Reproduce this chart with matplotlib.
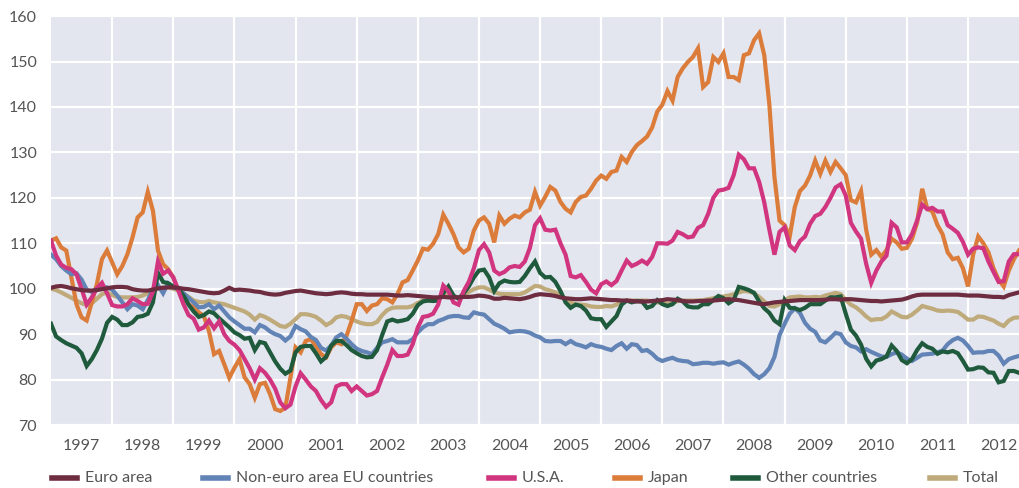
import numpy as np
import matplotlib
matplotlib.use('Agg')
import matplotlib.pyplot as plt
from matplotlib.lines import Line2D

# monthly index values, Jan 1997 .. Nov 2012 (one row per year)
euro_area = [
    100.2, 100.5, 100.6, 100.4, 100.1, 99.9, 99.7, 99.6, 99.6, 99.7, 99.9, 100.1,
    100.3, 100.4, 100.4, 100.3, 99.9, 99.7, 99.6, 99.6, 99.8, 100.1, 100.2, 100.3,
    100.3, 100.2, 100.0, 99.9, 99.7, 99.5, 99.3, 99.1, 99.0, 99.1, 99.6, 100.2,
    99.7, 99.8, 99.7, 99.6, 99.4, 99.3, 99.0, 98.8, 98.7, 98.8, 99.1, 99.3,
    99.5, 99.6, 99.4, 99.2, 99.0, 98.9, 98.8, 98.9, 99.1, 99.2, 99.1, 98.9,
    98.8, 98.8, 98.7, 98.7, 98.7, 98.7, 98.7, 98.6, 98.5, 98.5, 98.6, 98.5,
    98.4, 98.3, 98.2, 98.1, 98.1, 98.2, 98.1, 98.1, 98.1, 98.2, 98.2, 98.3,
    98.5, 98.4, 98.2, 97.8, 97.8, 98.0, 97.9, 97.8, 97.7, 97.9, 98.2, 98.6,
    98.8, 98.7, 98.6, 98.4, 98.1, 97.9, 97.8, 97.7, 97.7, 97.8, 97.9, 97.8,
    97.7, 97.6, 97.5, 97.5, 97.4, 97.4, 97.3, 97.2, 97.2, 97.2, 97.3, 97.4,
    97.5, 97.7, 97.6, 97.5, 97.3, 97.2, 97.2, 97.3, 97.3, 97.4, 97.4, 97.5,
    97.6, 97.7, 97.6, 97.5, 97.3, 97.1, 96.9, 96.7, 96.6, 96.8, 97.0, 97.1,
    97.2, 97.3, 97.4, 97.5, 97.5, 97.5, 97.5, 97.5, 97.6, 97.7, 97.7, 97.6,
    97.7, 97.7, 97.6, 97.5, 97.4, 97.3, 97.3, 97.2, 97.3, 97.4, 97.5, 97.6,
    97.9, 98.3, 98.6, 98.7, 98.7, 98.7, 98.7, 98.7, 98.7, 98.7, 98.7, 98.6,
    98.5, 98.5, 98.5, 98.4, 98.3, 98.2, 98.2, 98.1, 98.6, 98.9, 99.2]

non_euro_eu = [
    107.5, 106.5, 105.0, 104.0, 103.2, 103.4, 102.0, 99.8, 99.3, 100.0, 100.3, 100.3,
    99.8, 98.5, 97.0, 95.5, 96.6, 96.3, 95.5, 97.5, 99.9, 100.8, 99.0, 101.2,
    100.3, 99.9, 99.0, 98.0, 97.0, 95.9, 96.0, 96.6, 95.5, 96.3, 95.0, 93.7,
    92.8, 92.0, 91.2, 91.2, 90.4, 92.0, 91.5, 90.6, 90.0, 89.6, 88.6, 89.5,
    91.8, 91.1, 90.6, 89.4, 88.7, 87.0, 86.4, 87.5, 89.3, 90.0, 89.0, 87.8,
    86.8, 86.3, 86.0, 85.6, 87.0, 88.2, 88.5, 88.9, 88.2, 88.2, 88.2, 88.9,
    90.4, 91.5, 92.2, 92.2, 92.9, 93.3, 93.8, 94.0, 94.0, 93.7, 93.6, 94.8,
    94.5, 94.3, 93.3, 92.3, 91.8, 91.2, 90.4, 90.6, 90.7, 90.6, 90.3, 89.7,
    89.3, 88.5, 88.4, 88.5, 88.5, 87.8, 88.5, 87.8, 87.5, 87.1, 87.8, 87.4,
    87.2, 86.8, 86.5, 87.4, 88.0, 86.8, 87.8, 87.6, 86.3, 86.5, 85.7, 84.6,
    84.1, 84.5, 84.8, 84.3, 84.1, 84.0, 83.4, 83.5, 83.7, 83.7, 83.5, 83.7,
    83.8, 83.3, 83.7, 84.0, 83.3, 82.4, 81.2, 80.4, 81.2, 82.5, 85.0, 89.8,
    92.3, 94.5, 95.7, 94.7, 92.5, 91.2, 90.5, 88.6, 88.2, 89.2, 90.3, 90.0,
    88.2, 87.4, 87.1, 86.2, 86.7, 86.1, 85.6, 85.1, 85.0, 85.6, 86.0, 85.5,
    84.6, 84.1, 84.8, 85.5, 85.6, 85.7, 86.0, 86.4, 87.8, 88.7, 89.2, 88.6,
    87.4, 85.9, 86.0, 86.0, 86.3, 86.3, 85.3, 83.5, 84.5, 84.9, 85.2]

usa = [
    110.6, 107.3, 105.3, 104.6, 104.3, 103.2, 100.0, 96.5, 98.1, 100.1, 101.3, 99.0,
    96.4, 96.1, 96.1, 96.6, 97.9, 97.3, 96.6, 96.7, 99.3, 106.0, 103.3, 104.0,
    102.5, 99.6, 96.6, 94.2, 93.4, 91.0, 91.5, 93.0, 91.3, 92.8, 90.0, 88.5,
    87.7, 86.5, 84.5, 82.5, 80.0, 82.5, 81.5, 80.0, 78.0, 75.0, 73.7, 74.5,
    78.5, 81.4, 80.0, 78.5, 77.5, 75.5, 74.0, 75.0, 78.5, 79.0, 79.0, 77.5,
    78.5, 77.5, 76.5, 76.8, 77.5, 80.5, 83.3, 86.5, 85.2, 85.2, 85.5, 87.8,
    91.5, 93.8, 94.0, 94.5, 96.5, 100.7, 99.5, 97.0, 96.5, 99.5, 101.5, 104.5,
    108.5, 109.8, 108.0, 104.0, 103.2, 103.7, 104.7, 105.0, 104.8, 106.0, 109.0, 114.0,
    115.5, 113.0, 112.8, 113.0, 110.0, 107.5, 102.8, 102.5, 103.0, 101.5, 99.8, 99.0,
    101.0, 101.6, 100.8, 101.7, 104.0, 106.2, 105.0, 105.5, 106.2, 105.5, 107.0, 110.0,
    110.0, 109.9, 110.6, 112.5, 112.0, 111.3, 111.5, 113.4, 114.0, 116.5, 120.0, 121.6,
    121.8, 122.2, 125.0, 129.5, 128.5, 126.5, 126.5, 123.5, 119.0, 113.0, 107.5, 112.5,
    113.5, 109.5, 108.5, 110.5, 111.5, 114.3, 116.0, 116.5, 118.0, 120.0, 122.3, 123.0,
    120.5, 114.5, 112.6, 111.0, 105.5, 101.3, 104.0, 106.0, 107.3, 114.5, 113.5, 110.2,
    110.2, 112.0, 115.0, 118.5, 117.5, 117.8, 117.0, 117.0, 114.0, 113.2, 112.3, 110.3,
    107.5, 108.8, 109.1, 108.9, 106.0, 103.7, 101.5, 101.7, 106.0, 107.6, 107.6]

japan = [
    110.6, 111.1, 109.1, 108.4, 102.5, 96.6, 93.7, 93.0, 97.0, 101.0, 106.5, 108.4,
    105.8, 103.2, 105.0, 107.6, 111.3, 115.7, 116.8, 121.3, 117.2, 108.4, 105.4, 104.3,
    102.5, 99.6, 98.1, 96.6, 95.9, 94.8, 94.0, 90.7, 85.6, 86.3, 83.4, 80.4,
    82.6, 84.5, 80.5, 79.0, 76.0, 79.0, 79.3, 76.8, 73.5, 73.1, 73.8, 80.4,
    87.1, 86.0, 88.5, 88.9, 87.4, 85.6, 84.9, 87.1, 88.2, 87.8, 89.6, 92.9,
    96.6, 96.6, 95.1, 96.3, 96.6, 97.9, 97.7, 97.0, 98.8, 101.4, 101.9, 104.0,
    106.2, 108.8, 108.6, 109.9, 112.0, 116.3, 114.3, 112.0, 109.1, 108.0, 108.8, 112.8,
    115.0, 115.7, 114.3, 110.2, 116.1, 114.3, 115.4, 116.1, 115.7, 116.8, 117.4, 121.3,
    118.3, 120.2, 122.4, 121.6, 119.1, 117.6, 116.8, 119.1, 120.2, 120.5, 122.0, 123.8,
    124.9, 124.2, 125.7, 126.0, 129.0, 127.9, 130.1, 131.6, 132.5, 133.5, 135.5, 139.0,
    140.5, 143.5, 141.4, 146.6, 148.5, 149.9, 151.0, 152.9, 144.4, 145.5, 151.0, 149.9,
    151.8, 146.6, 146.6, 145.9, 151.4, 151.8, 154.7, 156.2, 151.4, 140.6, 124.6, 115.0,
    114.0, 111.5, 118.0, 121.5, 122.7, 124.9, 128.2, 125.3, 128.2, 125.7, 127.9, 126.5,
    125.0, 119.5, 119.0, 121.5, 113.0, 107.5, 108.5, 107.0, 108.5, 111.0, 110.2, 108.8,
    109.0, 111.0, 114.5, 122.0, 117.6, 117.0, 114.0, 112.0, 108.0, 106.5, 106.8, 104.5,
    100.5, 107.5, 111.5, 110.0, 108.0, 104.5, 102.0, 100.5, 104.0, 106.5, 108.4]

other = [
    92.3, 89.5, 88.7, 88.0, 87.5, 87.0, 85.8, 83.0, 84.5, 86.5, 89.0, 92.5,
    93.8, 93.2, 92.0, 92.0, 92.6, 93.8, 94.0, 94.5, 97.0, 103.5, 101.5, 101.2,
    100.5, 100.0, 98.5, 96.5, 95.0, 93.8, 94.2, 95.0, 94.6, 93.5, 92.5, 91.5,
    90.4, 89.8, 89.0, 89.2, 86.5, 88.3, 88.0, 86.0, 84.0, 82.4, 81.3, 82.0,
    86.0, 87.2, 87.4, 87.4, 85.8, 84.0, 85.0, 87.5, 88.5, 88.5, 87.6, 86.5,
    85.8, 85.2, 84.9, 85.0, 86.5, 89.8, 92.8, 93.2, 92.8, 93.0, 93.3, 94.5,
    96.4, 97.2, 97.4, 97.3, 97.4, 99.0, 100.5, 98.5, 97.8, 99.0, 100.5, 102.5,
    104.0, 104.2, 102.5, 99.5, 101.2, 101.8, 101.5, 101.4, 101.5, 102.8, 104.5, 106.0,
    103.5, 102.5, 102.6, 101.5, 99.5, 97.0, 95.8, 96.5, 96.2, 95.2, 93.5, 93.3,
    93.3, 91.6, 92.8, 94.0, 96.5, 97.4, 97.0, 97.3, 97.2, 95.8, 96.2, 97.5,
    96.6, 96.2, 96.6, 97.8, 97.2, 96.1, 95.9, 95.9, 96.6, 96.6, 97.5, 98.4,
    97.9, 96.8, 97.5, 100.4, 100.1, 99.7, 99.1, 97.2, 95.7, 94.7, 93.0, 92.2,
    97.5, 95.8, 95.7, 95.3, 95.8, 96.6, 96.6, 96.6, 97.4, 98.1, 98.1, 98.3,
    94.5, 91.0, 89.7, 87.7, 84.6, 82.9, 84.2, 84.5, 85.1, 87.5, 86.3, 84.3,
    83.6, 84.5, 86.5, 88.0, 87.2, 86.8, 85.7, 86.2, 86.0, 86.3, 85.8, 84.1,
    82.2, 82.3, 82.7, 82.6, 81.6, 81.5, 79.4, 79.7, 81.9, 81.9, 81.5]

total = [
    100.0, 99.7, 99.2, 98.6, 98.0, 97.4, 96.8, 96.4, 96.8, 97.8, 98.8, 99.2,
    98.6, 98.2, 98.1, 98.1, 98.1, 98.2, 98.5, 99.0, 99.5, 100.0, 100.3, 100.3,
    100.0, 99.6, 99.0, 98.2, 97.4, 97.1, 97.0, 97.3, 97.0, 96.8, 96.6, 96.2,
    95.8, 95.4, 95.0, 94.3, 93.2, 94.2, 93.8, 93.2, 92.5, 91.8, 91.6, 92.3,
    93.3, 94.4, 94.4, 94.2, 93.8, 93.0, 92.0, 92.6, 93.7, 94.0, 93.8, 93.3,
    92.8, 92.4, 92.2, 92.2, 92.7, 94.2, 95.3, 95.8, 95.9, 95.9, 95.9, 96.2,
    96.9, 97.4, 97.4, 97.5, 97.8, 98.5, 98.6, 98.2, 98.1, 98.6, 99.3, 99.9,
    100.3, 100.3, 99.8, 99.2, 98.9, 98.8, 98.8, 98.8, 98.8, 99.2, 99.9, 100.6,
    100.5, 99.9, 99.6, 99.2, 98.6, 97.6, 96.9, 96.6, 96.5, 96.4, 96.1, 96.0,
    96.0, 96.2, 96.1, 96.5, 97.1, 97.4, 97.4, 97.4, 97.4, 97.4, 97.2, 97.0,
    96.9, 96.7, 96.8, 97.3, 97.4, 97.4, 97.4, 97.4, 97.5, 97.7, 97.9, 98.2,
    98.3, 98.5, 98.8, 99.2, 99.5, 99.4, 99.0, 98.2, 97.2, 96.2, 96.1, 96.6,
    97.4, 98.1, 98.2, 98.3, 98.1, 98.1, 98.2, 98.1, 98.5, 98.8, 99.1, 98.8,
    97.5, 96.5, 95.9, 95.0, 93.9, 93.1, 93.3, 93.3, 93.9, 95.0, 94.4, 93.8,
    93.7, 94.3, 95.2, 96.2, 95.9, 95.6, 95.2, 95.1, 95.2, 95.1, 94.9, 94.1,
    93.2, 93.2, 93.9, 93.8, 93.4, 93.0, 92.3, 91.8, 93.0, 93.6, 93.7]

years = list(range(1997, 2013))
labels = ['Euro area', 'Non-euro area EU countries', 'U.S.A.', 'Japan',
          'Other countries', 'Total']
colors = ['#6d2c40', '#6283b5', '#d1357f', '#db7c3b', '#1f5a3d', '#bfaa7b']

months = np.arange(len(euro_area))
x = 1997 + months / 12.0

plt.rcParams['font.family'] = ['Lato', 'DejaVu Sans']
txt_col = '#555555'

fig = plt.figure(figsize=(10.2, 4.88), dpi=100)
ax = fig.add_axes([0.05, 0.129, 0.95, 0.838])
ax.set_facecolor('#e3e6ee')

series = [euro_area, non_euro_eu, usa, japan, other, total]
zorders = [7, 4, 6, 3, 5, 2]
for vals, col, z in zip(series, colors, zorders):
    ax.plot(x, vals, color=col, lw=3.0, zorder=z, solid_joinstyle='miter')

ax.set_xlim(1997, 1997 + 190.2 / 12)
ax.set_ylim(70, 160)
ax.set_yticks(np.arange(70, 161, 10))
ax.set_xticks(years[1:])
ax.set_xticks([y + 0.5 for y in years], minor=True)
ax.set_xticklabels([])
ax.set_xticklabels([str(y) for y in years], minor=True)
ax.grid(True, which='major', color='white', lw=1.6)
ax.set_axisbelow(True)
ax.tick_params(which='both', length=0, colors=txt_col, labelsize=11.5)
ax.tick_params(axis='x', which='minor', pad=10)
ax.tick_params(axis='y', pad=10)
for s in ax.spines.values():
    s.set_visible(False)

# legend row under the axis (left edge of each key, in pixels)
leg_x = [52, 203, 489, 615, 733, 930]
for lx, lab, col in zip(leg_x, labels, colors):
    fx = lx / 1020.0
    fig.add_artist(Line2D([fx, fx + 25 / 1020.0], [10 / 488.0, 10 / 488.0],
                          color=col, lw=4, transform=fig.transFigure))
    fig.text(fx + 33 / 1020.0, 10 / 488.0, lab, color=txt_col, fontsize=11.5,
             va='center', ha='left')

fig.savefig('out.png', dpi=100)
